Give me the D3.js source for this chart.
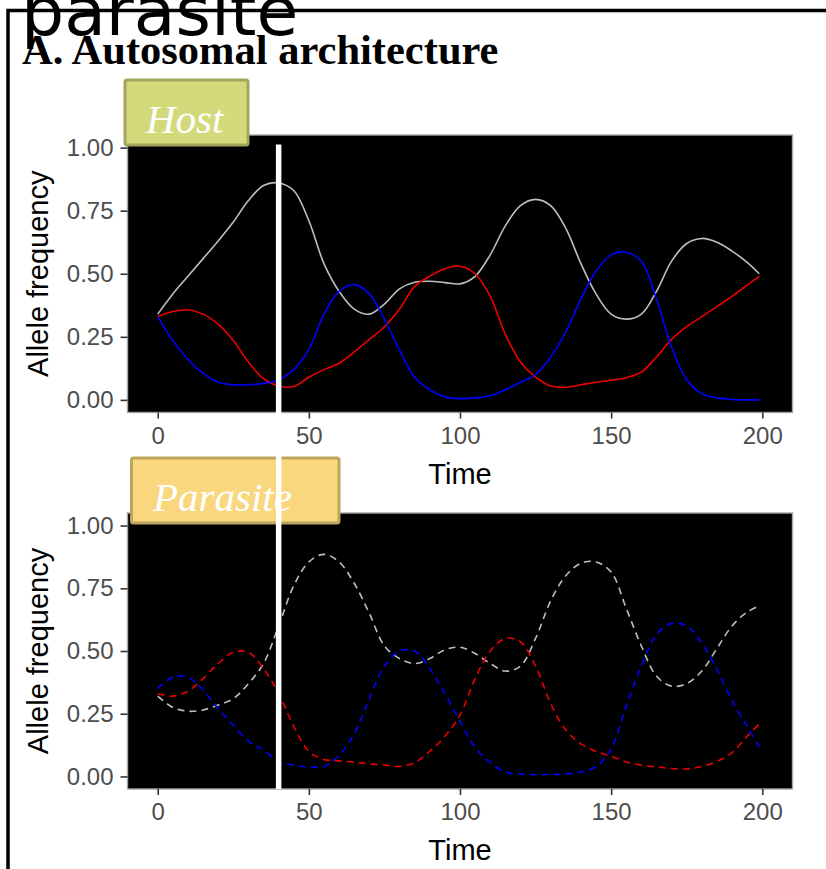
<!DOCTYPE html>
<html>
<head>
<meta charset="utf-8">
<script src="https://cdn.jsdelivr.net/npm/d3@7"></script>
<style>
    html, body { margin: 0; padding: 0; background: #ffffff; }
    svg { display: block; }
    .tick-label { font-family: "Liberation Sans", Arial, sans-serif; font-size: 24px; fill: #4d4d4d; }
    .axis-title { font-family: "Liberation Sans", Arial, sans-serif; font-size: 29px; fill: #000000; }
</style>
</head>
<body>
<div id="chart"></div>
<script>
// time points (simulation generations)
const TIME_POINTS = [0, 5, 10, 15, 20, 25, 30, 35, 40, 45, 50, 55, 60, 65, 70, 75, 80, 85, 90, 95,
    100, 105, 110, 115, 120, 125, 130, 135, 140, 145, 150, 155, 160, 165, 170, 175, 180, 185, 190, 195, 199];

const HOST_GREY = [0.34, 0.42, 0.49, 0.56, 0.63, 0.705, 0.79, 0.85, 0.86, 0.83, 0.71, 0.54, 0.43, 0.36, 0.34, 0.38,
    0.44, 0.466, 0.47, 0.465, 0.46, 0.49, 0.575, 0.69, 0.77, 0.795, 0.77, 0.68, 0.54, 0.42, 0.34, 0.32,
    0.34, 0.43, 0.55, 0.62, 0.64, 0.625, 0.59, 0.545, 0.50];
const HOST_RED = [0.33, 0.35, 0.357, 0.34, 0.30, 0.235, 0.15, 0.084, 0.055, 0.053, 0.09, 0.12, 0.145, 0.19, 0.24, 0.29,
    0.36, 0.45, 0.49, 0.52, 0.53, 0.50, 0.41, 0.26, 0.15, 0.09, 0.055, 0.05, 0.06, 0.07, 0.078, 0.088,
    0.11, 0.17, 0.24, 0.29, 0.33, 0.37, 0.41, 0.455, 0.49];
const HOST_BLUE = [0.33, 0.235, 0.16, 0.105, 0.07, 0.06, 0.06, 0.065, 0.08, 0.12, 0.20, 0.34, 0.43, 0.457, 0.42, 0.32,
    0.197, 0.09, 0.04, 0.012, 0.005, 0.008, 0.016, 0.04, 0.07, 0.10, 0.17, 0.27, 0.40, 0.51, 0.575, 0.585,
    0.55, 0.40, 0.21, 0.08, 0.025, 0.008, 0.002, 0.0, 0.0];

const PARASITE_GREY = [0.32, 0.275, 0.26, 0.265, 0.285, 0.31, 0.37, 0.45, 0.60, 0.76, 0.855, 0.885, 0.855, 0.77, 0.65, 0.52,
    0.47, 0.45, 0.47, 0.505, 0.515, 0.49, 0.45, 0.42, 0.44, 0.55, 0.70, 0.80, 0.85, 0.855, 0.815, 0.67,
    0.52, 0.40, 0.36, 0.37, 0.42, 0.51, 0.60, 0.655, 0.68];
const PARASITE_RED = [0.33, 0.32, 0.34, 0.39, 0.45, 0.495, 0.495, 0.43, 0.33, 0.20, 0.10, 0.068, 0.062, 0.057, 0.05, 0.045,
    0.04, 0.055, 0.10, 0.16, 0.245, 0.39, 0.50, 0.55, 0.536, 0.44, 0.29, 0.185, 0.13, 0.10, 0.08, 0.058,
    0.045, 0.038, 0.032, 0.03, 0.04, 0.06, 0.095, 0.16, 0.21];
const PARASITE_BLUE = [0.35, 0.396, 0.395, 0.345, 0.27, 0.205, 0.14, 0.105, 0.06, 0.045, 0.038, 0.04, 0.085, 0.17, 0.31, 0.44,
    0.50, 0.50, 0.43, 0.33, 0.22, 0.115, 0.055, 0.018, 0.01, 0.007, 0.008, 0.01, 0.018, 0.04, 0.11, 0.28,
    0.44, 0.565, 0.61, 0.60, 0.53, 0.428, 0.30, 0.20, 0.118];

const X_TICKS = [0, 50, 100, 150, 200];
const Y_TICKS = [0, 0.25, 0.5, 0.75, 1];
const MARKER_TIME = 40;

const SERIES_COLORS = { grey: '#bebebe', red: '#ee0000', blue: '#0000ff' };

const PANELS = [
    {
        label: 'Host',
        fill: '#d4da7c',
        stroke: '#a4a55c',
        dashed: false,
        top: 135,
        bottom: 412.5,
        box: { x: 125, y: 80, width: 123, height: 65, textX: 146, textY: 133 },
        series: [
            { key: 'grey', values: HOST_GREY },
            { key: 'red', values: HOST_RED },
            { key: 'blue', values: HOST_BLUE }
        ]
    },
    {
        label: 'Parasite',
        fill: '#f9d77e',
        stroke: '#bda55c',
        dashed: true,
        top: 513,
        bottom: 789,
        box: { x: 131.5, y: 458, width: 207.5, height: 65, textX: 153, textY: 511 },
        series: [
            { key: 'grey', values: PARASITE_GREY },
            { key: 'red', values: PARASITE_RED },
            { key: 'blue', values: PARASITE_BLUE }
        ]
    }
];

const WIDTH = 826;
const HEIGHT = 869;
const PANEL_LEFT = 127.5;
const PANEL_RIGHT = 792.5;

const svg = d3.select('#chart').append('svg')
    .attr('width', WIDTH)
    .attr('height', HEIGHT);

const xScale = d3.scaleLinear()
    .domain([-10, 210])
    .range([PANEL_LEFT, PANEL_RIGHT]);

function renderPanel(panel) {
    const yScale = d3.scaleLinear()
        .domain([-0.05, 1.05])
        .range([panel.bottom, panel.top]);

    const group = svg.append('g');

    group.append('rect')
        .attr('x', PANEL_LEFT)
        .attr('y', panel.top)
        .attr('width', PANEL_RIGHT - PANEL_LEFT)
        .attr('height', panel.bottom - panel.top)
        .attr('fill', '#000000')
        .attr('stroke', '#a6a6a6')
        .attr('stroke-width', 1.4);

    // y axis
    group.append('g')
        .attr('transform', `translate(${PANEL_LEFT},0)`)
        .call(d3.axisLeft(yScale).tickValues(Y_TICKS).tickFormat(d3.format('.2f')).tickSize(7).tickPadding(7))
        .call((axis) => axis.select('.domain').remove())
        .call((axis) => axis.selectAll('line').attr('stroke', '#333333').attr('stroke-width', 1.6))
        .call((axis) => axis.selectAll('text').attr('class', 'tick-label').attr('font-size', null).attr('font-family', null).attr('fill', null));

    // x axis
    group.append('g')
        .attr('transform', `translate(0,${panel.bottom})`)
        .call(d3.axisBottom(xScale).tickValues(X_TICKS).tickSize(6).tickPadding(8))
        .call((axis) => axis.select('.domain').remove())
        .call((axis) => axis.selectAll('line').attr('stroke', '#333333').attr('stroke-width', 1.6))
        .call((axis) => axis.selectAll('text').attr('class', 'tick-label').attr('font-size', null).attr('font-family', null).attr('fill', null));

    group.append('text')
        .attr('class', 'axis-title')
        .attr('x', (xScale(0) + xScale(200)) / 2)
        .attr('y', panel.bottom + 71)
        .attr('text-anchor', 'middle')
        .text('Time');

    group.append('text')
        .attr('class', 'axis-title')
        .attr('transform', 'rotate(-90)')
        .attr('x', -(yScale(0) + yScale(1)) / 2)
        .attr('y', 48)
        .attr('text-anchor', 'middle')
        .text('Allele frequency');

    const lineGenerator = d3.line()
        .x((datum) => xScale(datum.time))
        .y((datum) => yScale(datum.value))
        .curve(d3.curveCatmullRom.alpha(0.5));

    panel.series.forEach((series) => {
        const points = TIME_POINTS.map((time, index) => ({ time, value: series.values[index] }));
        group.append('path')
            .datum(points)
            .attr('fill', 'none')
            .attr('stroke', SERIES_COLORS[series.key])
            .attr('stroke-width', 1.6)
            .attr('stroke-dasharray', panel.dashed ? '7,5' : null)
            .attr('d', lineGenerator);
    });
}

function renderLabelBox(panel) {
    const box = panel.box;
    svg.append('rect')
        .attr('x', box.x)
        .attr('y', box.y)
        .attr('width', box.width)
        .attr('height', box.height)
        .attr('rx', 2)
        .attr('fill', panel.fill)
        .attr('stroke', panel.stroke)
        .attr('stroke-width', 3);

    svg.append('text')
        .attr('x', box.textX)
        .attr('y', box.textY)
        .attr('font-family', '"Liberation Serif", "Times New Roman", serif')
        .attr('font-style', 'italic')
        .attr('font-size', 41)
        .attr('fill', '#ffffff')
        .text(panel.label);
}

// page frame and headings
svg.append('rect')
    .attr('x', 8)
    .attr('y', 10.5)
    .attr('width', 900)
    .attr('height', 900)
    .attr('fill', 'none')
    .attr('stroke', '#000000')
    .attr('stroke-width', 3.5);

svg.append('text')
    .attr('x', 21)
    .attr('y', 35)
    .attr('font-family', '"DejaVu Sans", sans-serif')
    .attr('font-size', 68)
    .attr('fill', '#000000')
    .text('parasite');

svg.append('text')
    .attr('x', 22)
    .attr('y', 64)
    .attr('font-family', '"Liberation Serif", "Times New Roman", serif')
    .attr('font-weight', 'bold')
    .attr('font-size', 42.5)
    .attr('fill', '#000000')
    .text('A. Autosomal architecture');

PANELS.forEach(renderPanel);
PANELS.forEach(renderLabelBox);

// marker for the time point highlighted in the figure
svg.append('line')
    .attr('x1', xScale(MARKER_TIME))
    .attr('x2', xScale(MARKER_TIME))
    .attr('y1', 144.5)
    .attr('y2', PANELS[1].bottom)
    .attr('stroke', '#ffffff')
    .attr('stroke-width', 5.5);
</script>
</body>
</html>
